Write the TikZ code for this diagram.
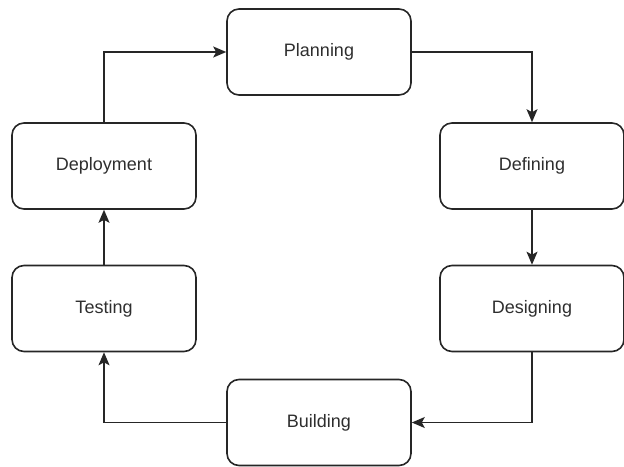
\documentclass[tikz,border=0pt]{standalone}
\usepackage{fontspec}
\setmainfont{Liberation Sans}
\usetikzlibrary{arrows.meta}
\begin{document}
\begin{tikzpicture}[x=1pt,y=-1pt,
  stage/.style={draw=black!85, line width=1.6pt, rounded corners=12pt,
    minimum width=184pt, minimum height=86pt, inner sep=0pt,
    font=\fontsize{18}{21}\selectfont, text=black!82},
  flow/.style={draw=black!85, line width=1.6pt, -{Stealth[length=13pt,width=11pt,inset=3pt]}}]
\useasboundingbox (0,0) rectangle (624,466);
\node[stage] (planning) at (319,52) {Planning};
\node[stage] (deployment) at (104,166) {Deployment};
\node[stage] (defining) at (532,166) {Defining};
\node[stage] (testing) at (104,308.5) {Testing};
\node[stage] (designing) at (532,308.5) {Designing};
\node[stage] (building) at (319,422.5) {Building};
\draw[flow] (deployment.north) |- (planning.west);
\draw[flow] (planning.east) -| (defining.north);
\draw[flow] (defining.south) -- (designing.north);
\draw[flow] (designing.south) |- (building.east);
\draw[flow] (building.west) -| (testing.south);
\draw[flow] (testing.north) -- (deployment.south);
\end{tikzpicture}
\end{document}
